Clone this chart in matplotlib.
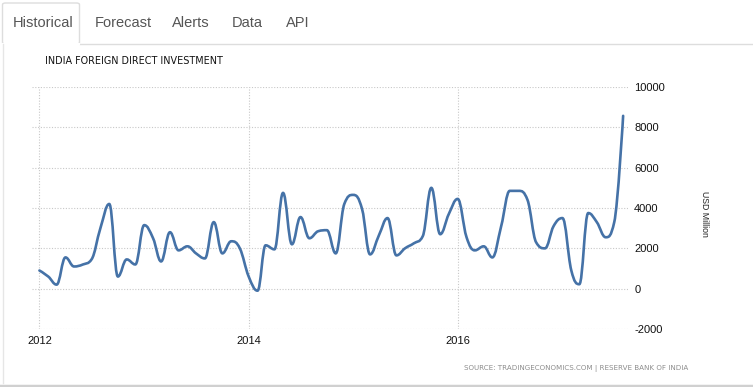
import numpy as np
import pandas as pd
import matplotlib

matplotlib.use("Agg")
import matplotlib.pyplot as plt
import matplotlib.dates as mdates
from matplotlib.path import Path
from matplotlib.patches import PathPatch, FancyBboxPatch
from matplotlib.lines import Line2D

# monthly FDI, USD million, Jan 2012 .. Aug 2017
start_month = "2012-01-01"
fdi = [
    900, 600, 200, 1550, 1100, 1200, 1450, 3000, 4200, 600, 1450, 1200,
    3150, 2500, 1350, 2800, 1900, 2100, 1750, 1500, 3300, 1750, 2350, 2000,
    600, -100, 2150, 1950, 4750, 2200, 3550, 2500, 2850, 2900, 1750, 4200,
    4650, 3950, 1700, 2650, 3500, 1650, 2000, 2250, 2600, 5000, 2700, 3700,
    4450, 2550, 1900, 2100, 1550, 3100, 4850, 4850, 4400, 2300, 2000, 3100,
    3500, 900, 220, 3750, 3300, 2550, 3300, 8570,
]
y_ticks = [-2000, 0, 2000, 4000, 6000, 8000, 10000]
x_tick_years = ["2012", "2014", "2016"]
tabs = ["Historical", "Forecast", "Alerts", "Data", "API"]

TITLE = "INDIA FOREIGN DIRECT INVESTMENT"
SOURCE = "SOURCE: TRADINGECONOMICS.COM | RESERVE BANK OF INDIA"
UNIT = "USD Million"

LINE_COLOR = "#4572a7"
GRID_COLOR = "#c8c8c8"
NARROW = ["Liberation Sans Narrow", "DejaVu Sans Condensed", "DejaVu Sans"]
SANS = ["Liberation Sans", "DejaVu Sans"]


def spline_path(xs, ys, smoothing=1.5):
    """Bezier path through the points, same control-point rule as a Highcharts spline."""
    n = len(xs)
    denom = smoothing + 1
    left = [(xs[i], ys[i]) for i in range(n)]
    right = [(xs[i], ys[i]) for i in range(n)]
    for i in range(1, n - 1):
        lx, ly = xs[i - 1], ys[i - 1]
        nx, ny = xs[i + 1], ys[i + 1]
        px, py = xs[i], ys[i]
        lcx = (smoothing * px + lx) / denom
        lcy = (smoothing * py + ly) / denom
        rcx = (smoothing * px + nx) / denom
        rcy = (smoothing * py + ny) / denom
        if rcx != lcx:
            corr = (rcy - lcy) * (rcx - px) / (rcx - lcx) + py - rcy
            lcy += corr
            rcy += corr
        if lcy > ly and lcy > py:
            lcy = max(ly, py)
            rcy = 2 * py - lcy
        elif lcy < ly and lcy < py:
            lcy = min(ly, py)
            rcy = 2 * py - lcy
        if rcy > ny and rcy > py:
            rcy = max(ny, py)
            lcy = 2 * py - rcy
        elif rcy < ny and rcy < py:
            rcy = min(ny, py)
            lcy = 2 * py - rcy
        left[i] = (lcx, lcy)
        right[i] = (rcx, rcy)
    verts = [(xs[0], ys[0])]
    codes = [Path.MOVETO]
    for i in range(1, n):
        verts += [right[i - 1], left[i], (xs[i], ys[i])]
        codes += [Path.CURVE4] * 3
    return Path(verts, codes)


dates = pd.date_range(start_month, periods=len(fdi), freq="MS")
xnum = mdates.date2num(dates.to_pydatetime())
yvals = np.asarray(fdi, dtype=float)

fig = plt.figure(figsize=(7.53, 3.87), dpi=100)
fig.patch.set_facecolor("white")

# tab strip, placed in pixel units of the 753x387 canvas
W, H = 753.0, 387.0
def fx(px):
    return px / W
def fy(py):
    return 1 - py / H

fig.add_artist(Line2D([fx(80), 1], [fy(43.5), fy(43.5)], color="#dddddd", lw=1))
tab = FancyBboxPatch((fx(2.5), fy(44)), fx(77), fy(3) - fy(44),
                     boxstyle="round,pad=0,rounding_size=0.004",
                     transform=fig.transFigure, facecolor="white",
                     edgecolor="#dddddd", lw=1)
fig.add_artist(tab)
fig.add_artist(Line2D([fx(3), fx(79)], [fy(44), fy(44)], color="white", lw=1.5))
tab_x = [13, 95, 172, 232, 286]
for label, px in zip(tabs, tab_x):
    fig.text(fx(px), fy(23), label, fontsize=10.5, color="#555555",
             family=SANS, ha="left", va="center")

# panel edges
fig.add_artist(Line2D([fx(2.5), fx(2.5)], [fy(44), fy(383)], color="#e6e6e6", lw=1))
fig.add_artist(Line2D([0, 1], [fy(385.5), fy(385.5)], color="#d0d0d0", lw=2.5))

fig.text(fx(45), fy(61), TITLE, fontsize=6.95, color="#111111",
         family=NARROW, ha="left", va="center")
fig.text(fx(688), fy(368), SOURCE, fontsize=5.1, color="#8c8c8c",
         family=NARROW, ha="right", va="center")
fig.text(fx(704), fy(214), UNIT, fontsize=6.3, color="#222222", family=SANS,
         rotation=270, ha="center", va="center")

ax = fig.add_axes([fx(31.7), fy(329), fx(628) - fx(31.7), fy(87) - fy(329)])
ax.set_facecolor("none")
ax.add_patch(PathPatch(spline_path(xnum, yvals), facecolor="none",
                       edgecolor=LINE_COLOR, lw=1.9, capstyle="round",
                       joinstyle="round", zorder=3))

ax.set_xlim(mdates.date2num(pd.Timestamp("2011-12-05")),
            mdates.date2num(pd.Timestamp("2017-08-18")))
ax.set_ylim(y_ticks[0], y_ticks[-1])

xt = [mdates.date2num(pd.Timestamp(f"{y}-01-01")) for y in x_tick_years]
ax.set_xticks(xt)
ax.set_xticklabels(x_tick_years, family=SANS, fontsize=8, color="#111111")
ax.set_yticks(y_ticks)
ax.set_yticklabels([str(v) for v in y_ticks], family=SANS, fontsize=8,
                   color="#111111")
ax.yaxis.tick_right()
ax.tick_params(axis="both", length=0)
ax.tick_params(axis="y", pad=4.5)
ax.tick_params(axis="x", pad=5)

ax.grid(True, color=GRID_COLOR, lw=0.8, linestyle=(0, (1, 1.5)))
for s in ax.spines.values():
    s.set_visible(False)

fig.savefig("out.png", dpi=100)
